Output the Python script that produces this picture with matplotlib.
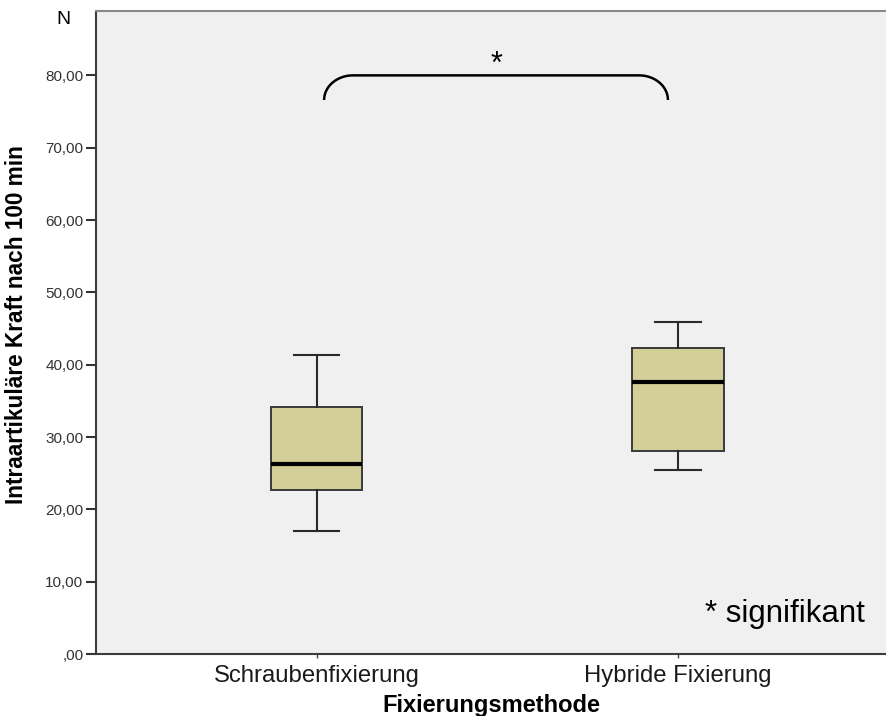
import numpy as np
import matplotlib.pyplot as plt

plt.rcParams['font.family'] = ['Liberation Sans', 'DejaVu Sans']

# data
groups = ["Schraubenfixierung", "Hybride Fixierung"]
whisker_low = [17.0, 25.4]
q1 = [22.7, 28.1]
median = [26.3, 37.6]
q3 = [34.1, 42.3]
whisker_high = [41.4, 45.9]
yticks = [0, 10, 20, 30, 40, 50, 60, 70, 80]

stats = []
for i, g in enumerate(groups):
    stats.append({"label": g, "whislo": whisker_low[i], "q1": q1[i], "med": median[i],
                  "q3": q3[i], "whishi": whisker_high[i], "fliers": []})

fig = plt.figure(figsize=(8.87, 7.16), dpi=100)
ax = fig.add_axes([96 / 887, 1 - 654 / 716, 1 - 96 / 887, (654 - 11) / 716])
ax.set_facecolor("#f0f0f0")

positions = np.arange(1, len(groups) + 1)
ax.bxp(stats, positions=positions, widths=0.252, patch_artist=True, showfliers=False,
       boxprops=dict(facecolor="#d3cf98", edgecolor="#3a3a3a", linewidth=1.4),
       medianprops=dict(color="black", linewidth=3),
       whiskerprops=dict(color="#2a2a2a", linewidth=1.5),
       capprops=dict(color="#2a2a2a", linewidth=1.5),
       capwidths=0.125)

ax.set_xlim(0.39, 2.578)
ax.set_ylim(0, 88.9)

ax.set_yticks(yticks)
ax.set_yticklabels([("%.2f" % v).replace(".", ",").lstrip("0") for v in yticks])
ax.tick_params(axis="y", length=7, width=1.5, color="#333333", labelsize=11,
               labelcolor="#333333", pad=2)
ax.set_xticks(positions)
ax.set_xticklabels(groups)
ax.tick_params(axis="x", length=3, width=1, color="#444444", labelsize=17.2,
               labelcolor="#1a1a1a", pad=5)

for s in ["left", "bottom"]:
    ax.spines[s].set_color("#3c3c3c")
    ax.spines[s].set_linewidth(1.5)
ax.spines["top"].set_color("#8a8a8a")
ax.spines["top"].set_linewidth(1.5)
ax.spines["right"].set_visible(False)

ax.set_xlabel("Fixierungsmethode", fontsize=17, fontweight="bold", labelpad=5)
ax.set_ylabel("Intraartikuläre Kraft nach 100 min", fontsize=16.3, fontweight="bold")
ax.yaxis.set_label_coords(-0.086, 0.512)

fig.text(63 / 887, 1 - 20 / 716, "N", fontsize=14, ha="center", va="center")

# significance bracket between the two groups
x0, x1 = positions[0] + 0.021, positions[1] - 0.028
y_end, y_top = 76.6, 80.0
rx = 0.08
t = np.linspace(0, np.pi / 2, 30)
left_x = x0 + rx * (1 - np.cos(t))
left_y = y_end + (y_top - y_end) * np.sin(t)
right_x = x1 - rx * (1 - np.cos(t[::-1]))
right_y = y_end + (y_top - y_end) * np.sin(t[::-1])
ax.plot(np.concatenate([left_x, right_x]), np.concatenate([left_y, right_y]),
        color="black", linewidth=1.8, solid_capstyle="butt")
ax.text((x0 + x1) / 2, 80.4, "*", fontsize=22, ha="center", va="baseline")

fig.text(865 / 887, 1 - 614 / 716, "* signifikant", fontsize=22.5, ha="right", va="center")

fig.savefig("out.png", dpi=100)
